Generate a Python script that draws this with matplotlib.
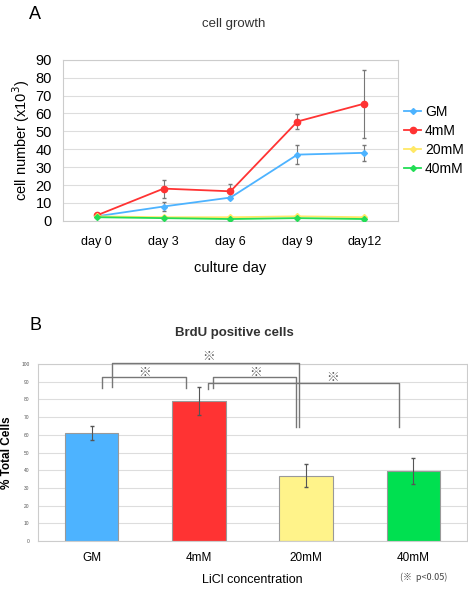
import numpy as np
import matplotlib.pyplot as plt
from matplotlib.lines import Line2D

plt.rcParams['font.family'] = ['Liberation Sans', 'Noto Sans CJK JP', 'DejaVu Sans']

# panel A data
days = ['day 0', 'day 3', 'day 6', 'day 9', 'day12']
gm = [2.5, 8, 13, 37, 38]
gm_err = [0.5, 2.5, 1, 5.5, 4.5]
mm4 = [3, 18, 16.5, 55.5, 65.5]
mm4_err = [0.5, 5, 4, 4, 19]
mm20 = [2.5, 2, 2, 2.5, 2]
mm20_err = [0.3, 0.3, 0.3, 0.3, 0.3]
mm40 = [2, 1.5, 1, 1.5, 1]
mm40_err = [0.3, 0.3, 0.3, 0.3, 0.3]

# panel B data
groups = ['GM', '4mM', '20mM', '40mM']
brdu = [61, 79, 37, 39.5]
brdu_err = [4, 8, 6.5, 7.5]

c_gm = '#4db3ff'
c_4 = '#ff3333'
c_20 = '#ffe866'
c_40 = '#22dd55'
bar_colors = ['#4db3ff', '#ff3333', '#fff38a', '#00e050']

fig = plt.figure(figsize=(4.68, 5.92), dpi=100)

# ---- panel A ----
ax1 = fig.add_axes([0.135, 0.627, 0.715, 0.272])
x = np.arange(len(days))
series = [(gm, gm_err, c_gm, 'GM', 'D'), (mm4, mm4_err, c_4, '4mM', 'o'),
          (mm20, mm20_err, c_20, '20mM', 'D'), (mm40, mm40_err, c_40, '40mM', 'D')]
handles = []
for vals, err, col, lab, mk in series:
    ms = 4.5 if mk == 'o' else 3
    ax1.errorbar(x, vals, yerr=err, color=col, marker=mk, markersize=ms,
                 lw=1.3, ecolor='#777777', elinewidth=0.8, capsize=1.5, zorder=3)
    handles.append(Line2D([], [], color=col, marker=mk, markersize=ms, lw=1.3, label=lab))
ax1.set_xlim(-0.5, 4.5)
ax1.set_ylim(0, 90)
ax1.set_yticks(range(0, 91, 10))
ax1.set_xticks(x)
ax1.set_xticklabels(days, fontsize=9)
ax1.tick_params(axis='y', labelsize=10.5, length=0, pad=8)
ax1.tick_params(axis='x', length=0, pad=11)
ax1.grid(axis='y', color='#dddddd', lw=0.8)
ax1.set_axisbelow(True)
for s in ax1.spines.values():
    s.set_color('#cccccc')
ax1.set_ylabel('cell number (x10$^3$)', fontsize=10.5, labelpad=3)
ax1.set_xlabel('culture day', fontsize=10.5, labelpad=9)
ax1.legend(handles=handles, loc='center left', bbox_to_anchor=(0.99, 0.50), frameon=False,
           fontsize=10, handlelength=1.2, handletextpad=0.3, labelspacing=0.35,
           borderaxespad=0.3)
fig.text(0.5, 0.959, 'cell growth', ha='center', va='center', fontsize=9.5, color='#333333')
fig.text(0.075, 0.975, 'A', ha='center', va='center', fontsize=13)

# ---- panel B ----
ax2 = fig.add_axes([0.081, 0.086, 0.917, 0.299])
xb = np.arange(len(groups))
ax2.bar(xb, brdu, width=0.5, color=bar_colors, edgecolor='#999999', lw=0.8, zorder=2)
ax2.errorbar(xb, brdu, yerr=brdu_err, fmt='none', ecolor='#555555', elinewidth=0.8,
             capsize=1.5, zorder=3)
ax2.set_xlim(-0.5, 3.5)
ax2.set_ylim(0, 100)
ax2.set_yticks(range(0, 101, 10))
ax2.tick_params(axis='y', labelsize=3.5, length=0, pad=6, labelcolor='#555555')
ax2.set_xticks(xb)
ax2.set_xticklabels(groups, fontsize=8.5)
ax2.tick_params(axis='x', length=0, pad=8)
ax2.grid(axis='y', color='#dddddd', lw=0.8)
ax2.set_axisbelow(True)
for s in ax2.spines.values():
    s.set_color('#cccccc')
ax2.set_ylabel('% Total Cells', fontsize=8.5, fontweight='bold')
ax2.yaxis.set_label_coords(-0.058, 0.5)
ax2.set_xlabel('LiCl concentration', fontsize=9, labelpad=7)

# significance brackets
bk = '#777777'
def bracket(x0, x1, y, y0, y1, sx, sy):
    ax2.plot([x0, x0, x1, x1], [y0, y, y, y1], color=bk, lw=1.0, clip_on=False, zorder=4)
    ax2.text(sx, sy, '※', ha='center', va='center', fontsize=9, color='#555555',
             family=['Noto Sans CJK JP', 'DejaVu Sans'], clip_on=False)

bracket(0.10, 0.88, 92.5, 86.5, 86.5, 0.49, 95.5)
bracket(0.19, 1.93, 100.5, 87, 64.5, 1.09, 104)
bracket(1.13, 1.91, 92.5, 86.5, 64.5, 1.53, 95.5)
bracket(1.09, 2.87, 89.3, 86, 64.5, 2.25, 92.5)

fig.text(0.075, 0.451, 'B', ha='center', va='center', fontsize=13)
fig.text(0.5, 0.438, 'BrdU positive cells', ha='center', va='center', fontsize=9.5,
         fontweight='bold', color='#333333')
fig.text(0.905, 0.024, '(※  p<0.05)', ha='center', va='center', fontsize=6.5, color='#444444',
         family=['Noto Sans CJK JP', 'DejaVu Sans'])

fig.savefig('out.png', dpi=100)
